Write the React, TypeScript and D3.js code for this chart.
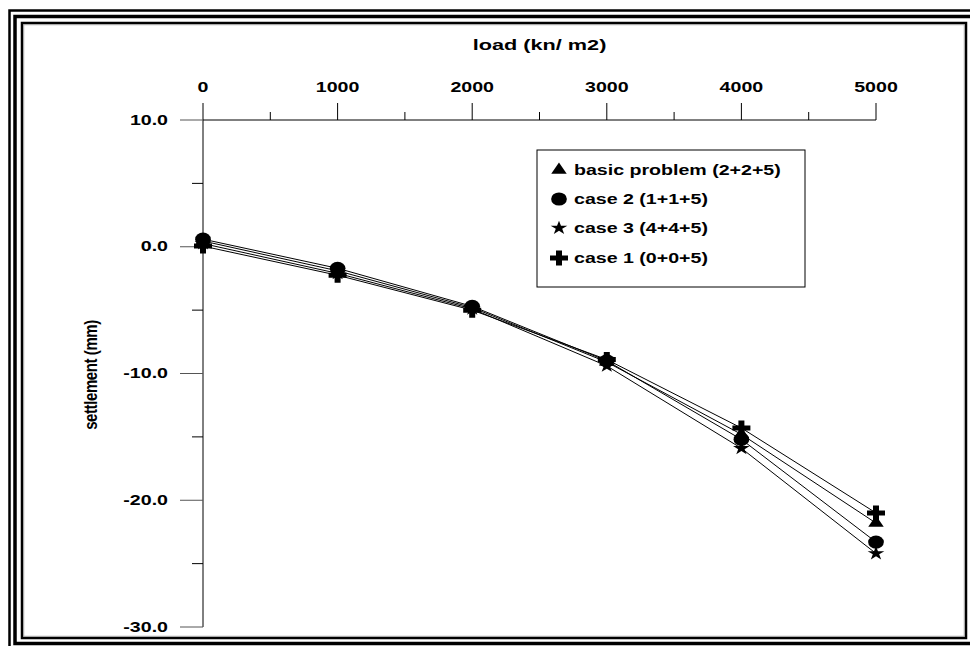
import * as d3 from "d3";

// load values (kn/m2) and settlement per case (mm)
const loads = [0, 1000, 2000, 3000, 4000, 5000];
const basicProblem = [0.45, -1.9, -4.8, -9.1, -14.8, -21.8];
const case2 = [0.6, -1.7, -4.7, -9.0, -15.2, -23.3];
const case3 = [0.25, -2.1, -4.9, -9.4, -15.9, -24.2];
const case1 = [0.05, -2.25, -5.0, -8.9, -14.3, -21.0];

const seriesNames = ["basic problem (2+2+5)", "case 2 (1+1+5)", "case 3 (4+4+5)", "case 1 (0+0+5)"];

const xTicks = [0, 1000, 2000, 3000, 4000, 5000];
const xMinorTicks = [500, 1500, 2500, 3500, 4500];
const yTicks = [10, 0, -10, -20, -30];
const yTickLabels = ["10.0", "0.0", "-10.0", "-20.0", "-30.0"];
const yMinorTicks = [5, -5, -15, -25];

const FONT = "'Liberation Sans', Arial, sans-serif";
const STRETCH = 1.4;

function Txt({ x, y, anchor = "start", size = 14, children }) {
    return (
        <g transform={`translate(${x},${y}) scale(${STRETCH},1)`}>
            <text
                textAnchor={anchor}
                dominantBaseline="central"
                fontFamily={FONT}
                fontWeight="bold"
                fontSize={size}
                fill="#000"
            >
                {children}
            </text>
        </g>
    );
}

function Marker({ type, x, y }) {
    const symbols = {
        triangle: d3.symbol(d3.symbolTriangle, 72)(),
        circle: d3.symbol(d3.symbolCircle, 135)(),
        star: d3.symbol(d3.symbolStar, 60)(),
        cross: d3.symbol(d3.symbolCross, 125)(),
    };
    return <path d={symbols[type]} transform={`translate(${x},${y}) scale(1.2,1)`} fill="#000" />;
}

export default function App() {
    const width = 970;
    const height = 646;

    const scaleX = d3.scaleLinear().domain([0, 5000]).range([203, 876]);
    const scaleY = d3.scaleLinear().domain([-30, 10]).range([627, 120]);
    const axisY = scaleY(10);
    const axisX = scaleX(0);

    const series = [
        { name: seriesNames[0], values: basicProblem, marker: "triangle" },
        { name: seriesNames[1], values: case2, marker: "circle" },
        { name: seriesNames[2], values: case3, marker: "star" },
        { name: seriesNames[3], values: case1, marker: "cross" },
    ];
    // draw order so the circle sits on top at the start, like the original
    const drawOrder = [3, 2, 0, 1];

    const line = d3
        .line()
        .x((d) => scaleX(d[0]))
        .y((d) => scaleY(d[1]));

    const legendX = 537;
    const legendY = 150;
    const legendRows = [170, 199, 228, 258];

    return (
        <svg width={width} height={height} style={{ position: "absolute", left: 0, top: 0, background: "#fff" }}>
            {/* frame */}
            <rect x={9.5} y={10.5} width={980} height={660} fill="none" stroke="#000" strokeWidth={2.5} />
            <rect x={15} y={16.5} width={957} height={627} fill="none" stroke="#000" strokeWidth={3.5} />
            <rect x={22} y={23} width={944} height={615} fill="#fff" stroke="#000" strokeWidth={2.5} />
            <rect x={23.8} y={24.8} width={940.4} height={611.4} fill="none" stroke="#999" strokeWidth={0.8} />

            {/* x axis on top */}
            <line x1={axisX} x2={scaleX(5000)} y1={axisY} y2={axisY} stroke="#000" />
            {xTicks.map((t) => (
                <g key={`xt-${t}`}>
                    <line x1={scaleX(t)} x2={scaleX(t)} y1={axisY} y2={axisY - 17} stroke="#000" />
                    <Txt x={scaleX(t)} y={axisY - 33} anchor="middle">{t}</Txt>
                </g>
            ))}
            {xMinorTicks.map((t) => (
                <line key={`xm-${t}`} x1={scaleX(t)} x2={scaleX(t)} y1={axisY} y2={axisY - 8} stroke="#000" />
            ))}
            <Txt x={(scaleX(0) + scaleX(5000)) / 2} y={45} anchor="middle" size={15.5}>load (kn/ m2)</Txt>

            {/* y axis */}
            <line x1={axisX} x2={axisX} y1={axisY} y2={scaleY(-30)} stroke="#000" />
            {yTicks.map((t, i) => (
                <g key={`yt-${t}`}>
                    <line x1={axisX - 23} x2={axisX} y1={scaleY(t)} y2={scaleY(t)} stroke="#555" />
                    <Txt x={168} y={scaleY(t)} anchor="end">{yTickLabels[i]}</Txt>
                </g>
            ))}
            {yMinorTicks.map((t) => (
                <line key={`ym-${t}`} x1={axisX - 11} x2={axisX} y1={scaleY(t)} y2={scaleY(t)} stroke="#000" />
            ))}
            <g transform={`translate(91,375) scale(1.2,1) rotate(-90)`}>
                <text textAnchor="middle" dominantBaseline="central" fontFamily={FONT} fontWeight="bold" fontSize={15} letterSpacing={-0.4}>
                    settlement (mm)
                </text>
            </g>

            {/* lines */}
            {drawOrder.map((i) => (
                <path
                    key={`line-${i}`}
                    d={line(loads.map((l, j) => [l, series[i].values[j]]))}
                    fill="none"
                    stroke="#000"
                    strokeWidth={1}
                />
            ))}
            {/* markers */}
            {drawOrder.map((i) =>
                loads.map((l, j) => (
                    <Marker key={`m-${i}-${j}`} type={series[i].marker} x={scaleX(l)} y={scaleY(series[i].values[j])} />
                ))
            )}

            {/* legend */}
            <rect x={legendX} y={legendY} width={268} height={137} fill="#fff" stroke="#000" strokeWidth={1} />
            {series.map((s, i) => (
                <g key={`lg-${i}`}>
                    <Marker type={s.marker} x={559} y={legendRows[i]} />
                    <Txt x={574} y={legendRows[i]}>{s.name}</Txt>
                </g>
            ))}
        </svg>
    );
}
